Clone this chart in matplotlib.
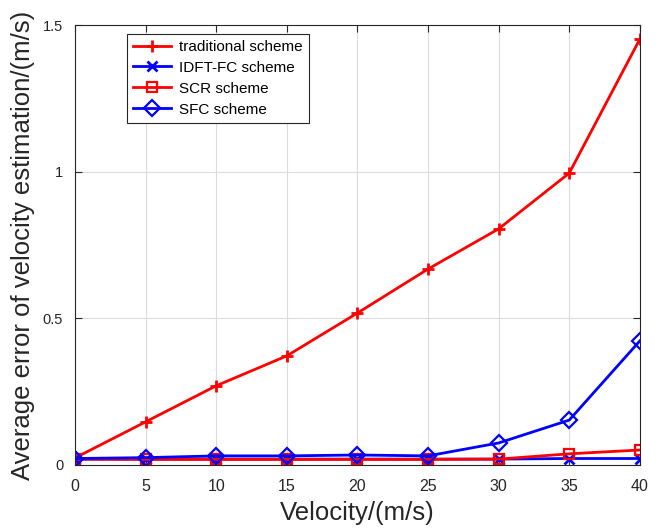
import matplotlib
matplotlib.use("Agg")
import matplotlib.pyplot as plt

velocity = [0, 5, 10, 15, 20, 25, 30, 35, 40]
traditional = [0.024, 0.147, 0.270, 0.372, 0.518, 0.668, 0.805, 0.995, 1.452]
idft_fc = [0.020, 0.020, 0.020, 0.020, 0.020, 0.020, 0.020, 0.022, 0.022]
scr = [0.020, 0.019, 0.019, 0.019, 0.019, 0.019, 0.020, 0.038, 0.051]
sfc = [0.022, 0.025, 0.031, 0.031, 0.034, 0.031, 0.075, 0.153, 0.423]

plt.rcParams['font.family'] = ['Liberation Sans', 'DejaVu Sans']

fig = plt.figure(figsize=(6.61, 5.32), dpi=100)
ax = fig.add_axes([0.1135, 0.126, 0.8545, 0.827])

lw = 2
ax.plot(velocity, traditional, color='#ff0000', marker='+', ms=9, mew=2, lw=lw, label='traditional scheme')
ax.plot(velocity, idft_fc, color='#0000ff', marker='x', ms=7, mew=2, lw=lw, label='IDFT-FC scheme')
ax.plot(velocity, scr, color='#ff0000', marker='s', ms=7, mew=1.6, mfc='none', lw=lw, label='SCR scheme')
ax.plot(velocity, sfc, color='#0000ff', marker='D', ms=8, mew=1.6, mfc='none', lw=lw, label='SFC scheme')

ax.set_xlim(0, 40)
ax.set_ylim(0, 1.5)
ax.set_xticks(range(0, 41, 5))
ax.set_yticks([0, 0.5, 1, 1.5])
ax.set_yticklabels(['0', '0.5', '1', '1.5'])
ax.grid(True, color='#dcdcdc', lw=0.8)
ax.set_axisbelow(True)
ax.tick_params(direction='in', top=True, right=True, length=5, colors='#262626')
ax.tick_params(axis='x', pad=10, labelsize=11.5)
ax.tick_params(axis='y', pad=8.5, labelsize=10.5)
for s in ax.spines.values():
    s.set_color('#262626')
    s.set_linewidth(0.8)

ax.set_xlabel('Velocity/(m/s)', fontsize=18.5, color='#262626', labelpad=5)
ax.set_ylabel('Average error of velocity estimation/(m/s)', fontsize=18.5, color='#262626', labelpad=6)

leg = ax.legend(loc='upper left', bbox_to_anchor=(0.092, 0.98), borderaxespad=0, fontsize=11,
                frameon=True, fancybox=False, edgecolor='#262626', framealpha=1, handlelength=2.5,
                borderpad=0.4, labelspacing=0.45, handletextpad=0.5)
leg.get_frame().set_linewidth(0.8)

fig.savefig('out.png', dpi=100)
